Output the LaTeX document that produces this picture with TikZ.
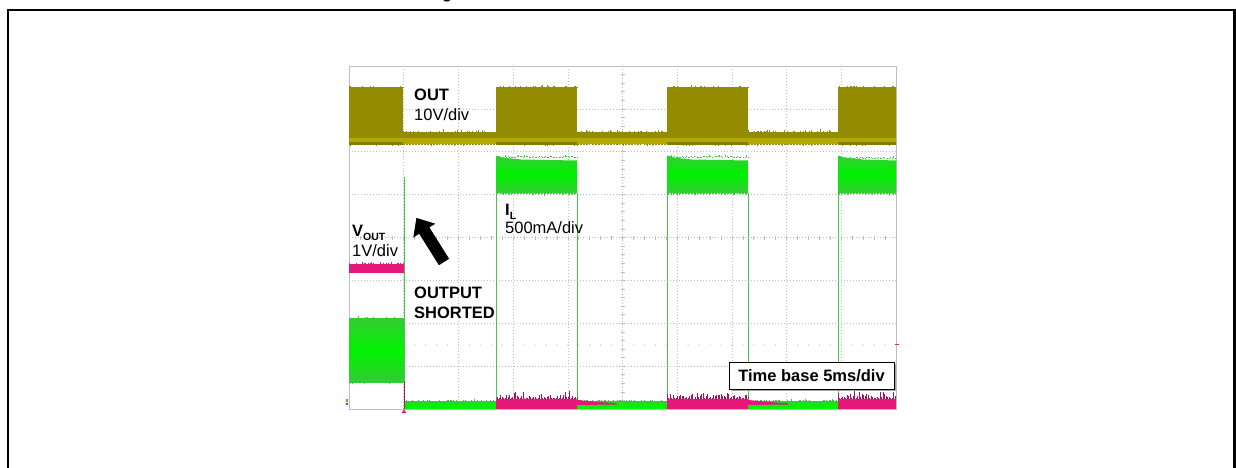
\documentclass[tikz,border=0pt]{standalone}
\usepackage{fontspec}
\setmainfont{Liberation Sans}
\definecolor{oliveA}{HTML}{948C00}
\definecolor{oliveB}{HTML}{B3A900}
\definecolor{grnA}{HTML}{33CC33}
\definecolor{grnB}{HTML}{00F200}
\definecolor{grnL}{HTML}{4CC44C}
\definecolor{magA}{HTML}{E6177B}
\definecolor{magD}{HTML}{B0105A}
\definecolor{gridc}{HTML}{BEBEBE}
\newcommand\mynoise[5]{%
  \foreach \d in {0,1.5,...,#2}{\draw[#5] ({#1+\d},#3) -- ({#1+\d},{#3-#4*rnd*rnd});}}
\tikzset{
  gridline/.style={gridc, line width=0.6pt, dash pattern=on 1pt off 2pt},
  tickline/.style={gridc, line width=0.6pt},
  lbl/.style={anchor=base west, inner sep=0pt, font=\fontsize{16.5}{20}\selectfont},
  blbl/.style={lbl, font=\fontsize{16.5}{20}\selectfont\bfseries},
  gvert/.style={grnL, line width=0.8pt},
}
\begin{document}
\begin{tikzpicture}[x=1pt,y=-1pt]
\useasboundingbox (0,0) rectangle (1236,468);
\pgfmathsetseed{7}
% outer frame (open at bottom)
\draw[line width=2.4pt] (8,472) -- (8,10) -- (1234.5,10) -- (1234.5,472);
\node[anchor=base west, inner sep=0pt, font=\fontsize{16.5}{20}\selectfont\bfseries] (title) at (442,-1) {g};
% plot area
\draw[gridc, line width=0.9pt] (349,66) rectangle (896,409);
\foreach \i in {1,...,9} \draw[gridline] ({349+54.7*\i},66) -- ({349+54.7*\i},409);
\foreach \j in {1,...,7} \draw[gridline] (349,{66+42.875*\j}) -- (896,{66+42.875*\j});
\foreach \k in {1,...,49} \draw[tickline] ({349+10.94*\k},235.5) -- ({349+10.94*\k},239.5);
\foreach \k in {1,...,39} \draw[tickline] (620.5,{66+8.575*\k}) -- (624.5,{66+8.575*\k});
\foreach \k in {1,...,49} \fill[gridc] ({349+10.94*\k},345) circle (0.7);
% ---- OUT trace
\fill[oliveA] (349,132.5) rectangle (896,137.5);
\fill[oliveB] (349,137.5) rectangle (896,144);
\mynoise{349}{547}{132.5}{3.5}{oliveA, line width=0.7pt}
\mynoise{349}{547}{144}{-2.5}{oliveA, line width=0.7pt}
\foreach \a/\b in {349/403, 496/577, 667/748, 838/896}{
  \fill[oliveA] (\a,87.5) rectangle (\b,137.5);
  \fill[oliveA!90!black] (\a,142) rectangle (\b,144.5);
}
\mynoise{349}{54}{87.5}{2.5}{oliveA, line width=0.8pt}
\mynoise{496}{81}{87.5}{2.5}{oliveA, line width=0.8pt}
\mynoise{667}{81}{87.5}{2.5}{oliveA, line width=0.8pt}
\mynoise{838}{58}{87.5}{2.5}{oliveA, line width=0.8pt}
% ---- I_L trace
\foreach \a/\b in {496/577, 667/748, 838/896}{
  \shade[top color=grnA, bottom color=grnA, middle color=grnB]
    (\a,193) -- (\a,155.5) -- ({\a+6},157.5) -- ({\a+25},159.5) -- (\b,160.5) -- (\b,193) -- cycle;
  \draw[gvert] (\a,193) -- (\a,401);
}
\draw[gvert] (577,193) -- (577,401);
\draw[gvert] (748,193) -- (748,401);
\mynoise{496}{81}{157}{2.5}{grnA, line width=0.7pt}
\mynoise{667}{81}{157}{2.5}{grnA, line width=0.7pt}
\mynoise{838}{58}{158}{2.5}{grnA, line width=0.7pt}
\mynoise{496}{81}{193}{-3}{grnA, line width=0.7pt}
\mynoise{667}{81}{193}{-3}{grnA, line width=0.7pt}
\mynoise{838}{58}{193}{-3}{grnA, line width=0.7pt}
\shade[top color=grnA, bottom color=grnA, middle color=grnB] (349,318.5) rectangle (404,382);
\mynoise{349}{55}{318.5}{2.5}{grnA, line width=0.7pt}
\mynoise{349}{55}{382}{-3}{grnA, line width=0.7pt}
\draw[gvert] (404,177) -- (404,409);
\foreach \a/\b in {404/496, 577/667, 748/838}{
  \fill[grnB] (\a,401.5) rectangle (\b,408.5);
  \fill[grnA] (\a,401) rectangle (\b,402.5);
}
\mynoise{405}{90}{401}{2}{grnA, line width=0.6pt}
\mynoise{748}{90}{401}{2}{grnA, line width=0.6pt}
\mynoise{577}{90}{401}{2}{grnA, line width=0.6pt}
% ---- V_OUT trace
\fill[magA] (349,264) rectangle (404,273);
\mynoise{349}{55}{264}{3}{magA, line width=0.7pt}
\draw[magD, line width=1.2pt] (404.5,382) -- (404.5,409);
\fill[magA] (404,409.5) -- (401.5,413) -- (406.5,413) -- cycle;
\foreach \a/\b in {496/577, 667/748, 838/896}{
  \fill[magA] (\a,398.5) rectangle (\b,408.5);
}
\mynoise{496}{81}{398.5}{9}{magD, line width=0.6pt}
\mynoise{667}{81}{398.5}{9}{magD, line width=0.6pt}
\mynoise{838}{58}{398.5}{9}{magD, line width=0.6pt}
\foreach \a in {577, 748}{
  \fill[magA] (\a,400) -- ({\a+40},403.5) -- ({\a+40},404.5) -- (\a,405) -- cycle;
}
\fill[magA] (895,343.5) rectangle (899,345);
\fill[magA] (346,403) rectangle (348,405);
\fill[grnA] (346,399) rectangle (348,402);
% ---- labels
\node[blbl] (outlbl) at (414,101) {OUT};
\node[lbl] (outdiv) at (414,120.5) {10V/div};
\node[blbl] (illbl) at (505,215) {I\raisebox{-4pt}{\fontsize{10.5}{11}\selectfont L}};
\node[lbl] (ildiv) at (505,233) {500mA/div};
\node[blbl] (vlbl) at (352,236.5) {V\raisebox{-3.5pt}{\fontsize{10.5}{11}\selectfont OUT}};
\node[lbl] (vdiv) at (352,256) {1V/div};
\node[blbl] (short1) at (414,298) {OUTPUT};
\node[blbl] (short2) at (414,318) {SHORTED};
% arrow
\fill[black] (416.4,217.9) -- (435.3,223.7) -- (429.4,227.4) -- (449.1,258.8)
  -- (438.9,265.2) -- (419.2,233.8) -- (413.3,237.5) -- cycle;
% time base box
\fill[gray!70] (731,364) rectangle (896,391);
\node[draw=black, fill=white, line width=0.9pt, minimum width=165pt, minimum height=27pt,
  inner sep=0pt, font=\fontsize{16.5}{20}\selectfont\bfseries] (tb) at (811.5,375.5) {Time base 5ms/div};
\end{tikzpicture}
\end{document}
